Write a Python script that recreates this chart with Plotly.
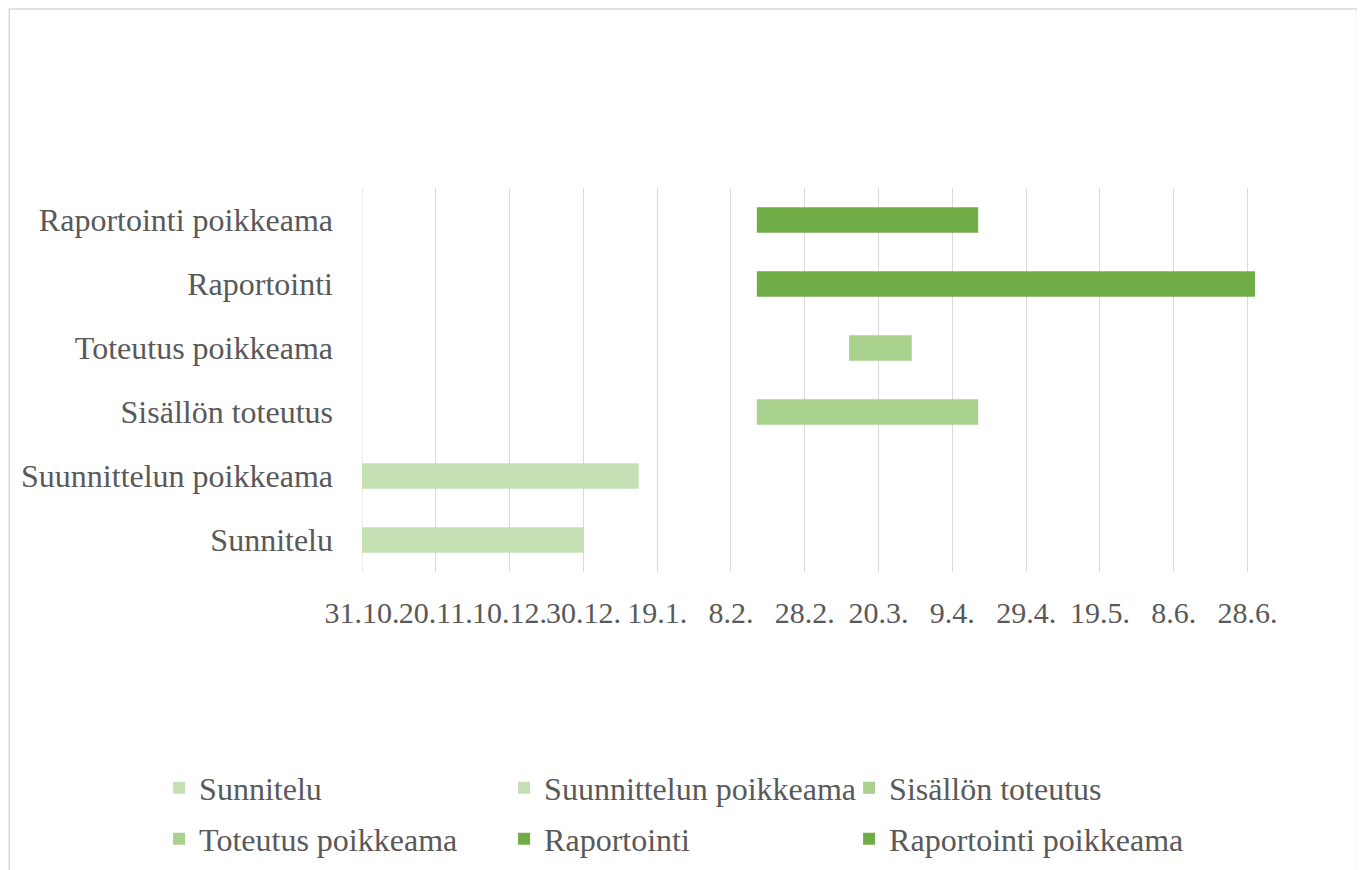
import pandas as pd
import plotly.graph_objects as go

tasks = ["Sunnitelu", "Suunnittelun poikkeama", "Sisällön toteutus",
         "Toteutus poikkeama", "Raportointi", "Raportointi poikkeama"]
starts = ["2018-10-31", "2018-10-31", "2019-02-15", "2019-03-12", "2019-02-15", "2019-02-15"]
ends = ["2018-12-30", "2019-01-14", "2019-04-16", "2019-03-29", "2019-06-30", "2019-04-16"]
colors = ["#C5E0B4", "#C5E0B4", "#A9D18E", "#A9D18E", "#70AD47", "#70AD47"]
legend_ids = ["legend", "legend", "legend", "legend2", "legend2", "legend2"]

tick_dates = ["2018-10-31", "2018-11-20", "2018-12-10", "2018-12-30", "2019-01-19",
              "2019-02-08", "2019-02-28", "2019-03-20", "2019-04-09", "2019-04-29",
              "2019-05-19", "2019-06-08", "2019-06-28"]
tick_labels = ["31.10.", "20.11.", "10.12.", "30.12.", "19.1.", "8.2.", "28.2.", "20.3.",
               "9.4.", "29.4.", "19.5.", "8.6.", "28.6."]

axis_start = "2018-10-31"
axis_end = "2019-07-03"

# page offset of the plotly div (default body margin)
OFF = 8
W_FIG, H_FIG = 1365, 870
PLOT_LEFT, PLOT_TOP, PLOT_BOTTOM = 362, 188, 572  # page pixels
PX_PER_DAY = (1248 - 362) / 240.0
n_days = (pd.Timestamp(axis_end) - pd.Timestamp(axis_start)).days
plot_w = PX_PER_DAY * n_days
plot_h = PLOT_BOTTOM - PLOT_TOP
L = PLOT_LEFT - OFF
T = PLOT_TOP - OFF
R = W_FIG - L - plot_w
B = H_FIG - (PLOT_BOTTOM - OFF)

font_fam = "Liberation Serif, Times New Roman, serif"
txt_col = "#595959"
grid_col = "#D9D9D9"

fig = go.Figure()
for name, s, e, c, lg in zip(tasks, starts, ends, colors, legend_ids):
    dur_ms = (pd.Timestamp(e) - pd.Timestamp(s)).total_seconds() * 1000
    fig.add_trace(go.Bar(
        y=[name], x=[dur_ms], base=[s], orientation="h", name=name,
        marker=dict(color=c, line=dict(width=0)), width=0.4,
        legend=lg, hoverinfo="skip"))


def px_to_paper_x(px):
    return (px - PLOT_LEFT) / plot_w


def px_to_paper_y(py):
    return (PLOT_BOTTOM - py) / plot_h


legend_common = dict(
    orientation="h", font=dict(family=font_fam, size=32, color=txt_col),
    entrywidth=300, entrywidthmode="pixels", xanchor="left", yanchor="middle",
    bgcolor="rgba(0,0,0,0)", itemwidth=30, traceorder="normal")

fig.update_layout(
    width=W_FIG, height=H_FIG,
    margin=dict(l=L, r=R, t=T, b=B, pad=0),
    paper_bgcolor="white", plot_bgcolor="white",
    barmode="overlay",
    font=dict(family=font_fam, size=32, color=txt_col),
    xaxis=dict(
        type="date", range=[axis_start, axis_end],
        tickmode="array", tickvals=tick_dates, ticktext=tick_labels,
        showgrid=True, gridcolor=grid_col, gridwidth=1,
        zeroline=False, showline=False, ticks="", tickangle=0,
        tickfont=dict(family=font_fam, size=30, color=txt_col),
        ticklabelstandoff=20, fixedrange=True),
    yaxis=dict(
        type="category", categoryorder="array", categoryarray=tasks,
        range=[-0.5, 5.5], showgrid=False, zeroline=False, showline=False,
        ticks="", tickfont=dict(family=font_fam, size=32, color=txt_col),
        ticklabelstandoff=28, fixedrange=True),
    legend=dict(x=px_to_paper_x(159), y=px_to_paper_y(788), **legend_common),
    legend2=dict(x=px_to_paper_x(159), y=px_to_paper_y(839), **legend_common),
    shapes=[
        dict(type="rect", xref="paper", yref="paper",
             x0=px_to_paper_x(OFF + 1), x1=px_to_paper_x(1358),
             y0=px_to_paper_y(900), y1=px_to_paper_y(OFF + 1),
             line=dict(color=grid_col, width=1.5), layer="below"),
        dict(type="line", xref="x", yref="paper",
             x0=axis_start, x1=axis_start, y0=0, y1=1,
             line=dict(color=grid_col, width=1), layer="below"),
    ],
    showlegend=True,
)

fig.write_html("out.html")
